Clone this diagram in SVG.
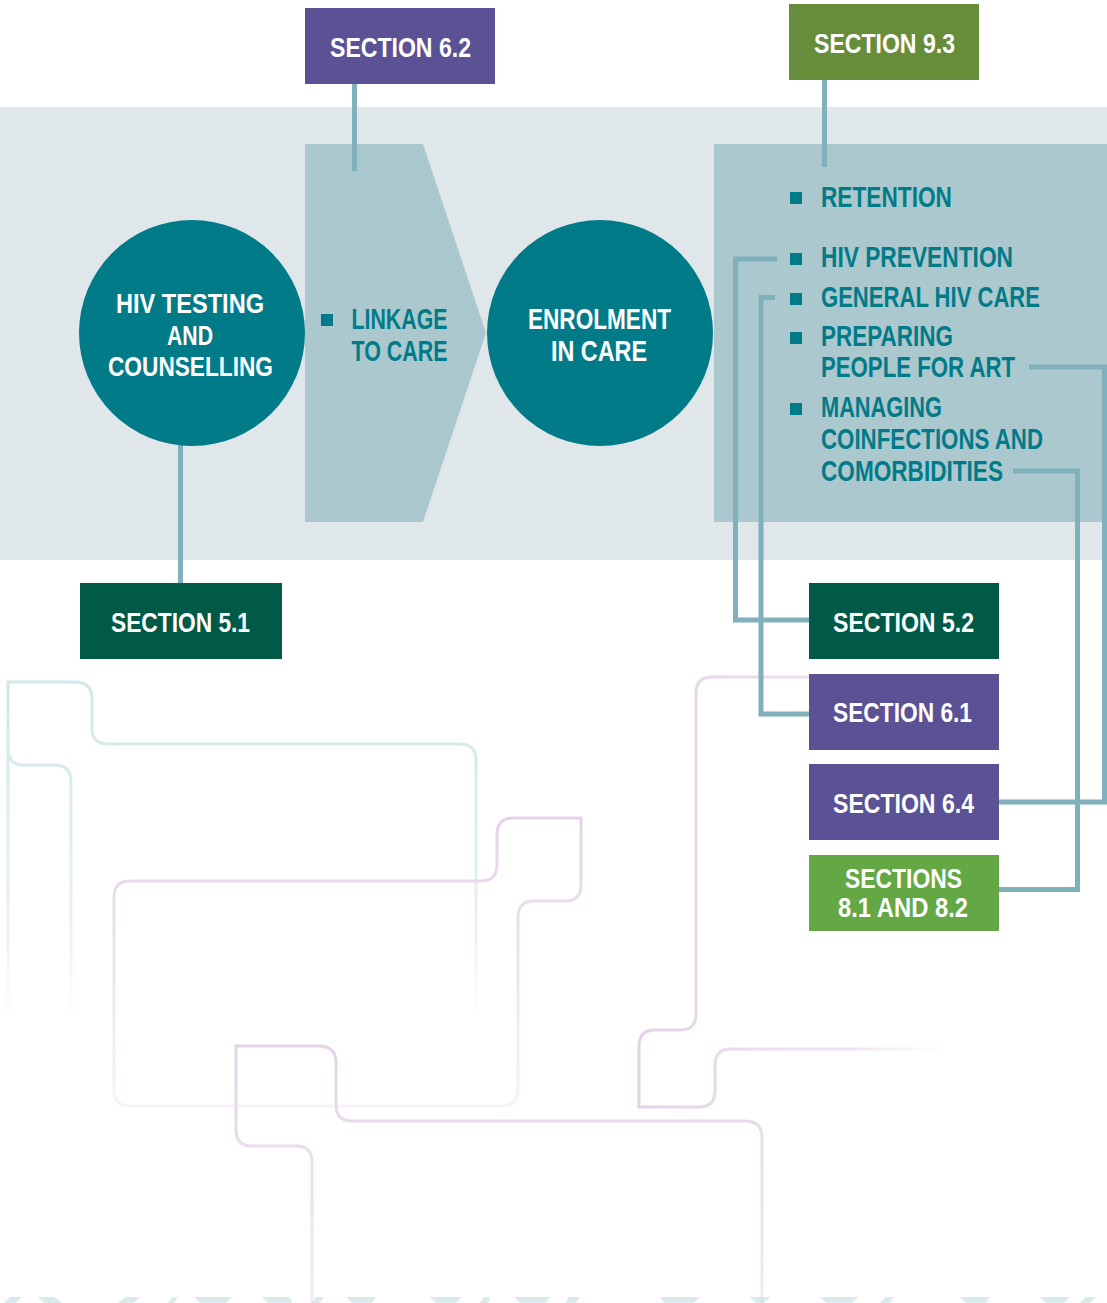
<svg xmlns="http://www.w3.org/2000/svg" width="1107" height="1303" viewBox="0 0 1107 1303">
<defs>
<style>
.txt{font-family:"Liberation Sans Narrow","Liberation Sans",Arial,sans-serif;font-weight:bold;}
.w{fill:#ffffff;}
.t{fill:#027b89;}
.s28{font-size:28px;}
.s30{font-size:30px;}
.s31{font-size:30px;}
.conn{fill:none;stroke:#7fb0bc;stroke-width:5;}
.deco{fill:none;stroke-width:3;}
.bul{fill:#027b89;}
</style>
<linearGradient id="gTeal" gradientUnits="userSpaceOnUse" x1="0" y1="680" x2="0" y2="1020">
<stop offset="0" stop-color="#d2e7ea"/>
<stop offset="0.7" stop-color="#e6f1f3"/>
<stop offset="1" stop-color="#ffffff"/>
</linearGradient>
<linearGradient id="gPurp" gradientUnits="userSpaceOnUse" x1="0" y1="815" x2="0" y2="1110">
<stop offset="0" stop-color="#e4d3e7"/>
<stop offset="1" stop-color="#f8f3f8"/>
</linearGradient>
<linearGradient id="gPurp2" gradientUnits="userSpaceOnUse" x1="0" y1="1040" x2="0" y2="1303">
<stop offset="0" stop-color="#e4d3e7"/>
<stop offset="1" stop-color="#f3eaf4"/>
</linearGradient>
<linearGradient id="gPurp3" gradientUnits="userSpaceOnUse" x1="640" y1="0" x2="945" y2="0">
<stop offset="0" stop-color="#e4d3e7"/>
<stop offset="0.7" stop-color="#efe5f0"/>
<stop offset="1" stop-color="#ffffff"/>
</linearGradient>
</defs>

<!-- background band -->
<rect x="0" y="107" width="1107" height="453" fill="#dfe7ea"/>

<!-- decorative lines -->
<g id="decoration">
<path class="deco" stroke="url(#gTeal)" d="M8,1012 L8,748 Q8,765 24,765 L54,765 Q71,765 71,782 L71,1015"/>
<path class="deco" stroke="url(#gTeal)" d="M8,750 L8,682 L75,682 Q92,682 92,699 L92,728 Q92,744 108,744 L459,744 Q476,744 476,760 L476,1015"/>
<path class="deco" stroke="url(#gPurp)" d="M581,818 L513,818 Q497,818 497,835 L497,865 Q497,881 481,881 L130,881 Q114,881 114,897 L114,1090 Q114,1106 130,1106 L501,1106 Q518,1106 518,1090 L518,917 Q518,901 534,901 L565,901 Q581,901 581,885 Z"/>
<path class="deco" stroke="url(#gPurp2)" d="M312,1303 L312,1162 Q312,1146 296,1146 L252,1146 Q236,1146 236,1130 L236,1046 L318,1046 Q336,1046 336,1062 L336,1105 Q336,1121 352,1121 L745,1121 Q762,1121 762,1137 L762,1303"/>
<path class="deco" stroke="url(#gPurp3)" d="M810,677 L712,677 Q696,677 696,693 L696,1014 Q696,1030 680,1030 L655,1030 Q639,1030 639,1046 L639,1107 L699,1107 Q715,1107 715,1091 L715,1065 Q715,1049 731,1049 L945,1049"/>
</g>

<!-- bottom strip pattern -->
<g id="strip" fill="#c3dcdf" opacity="0.6">
<polygon points="4,1303 10,1297 22,1297 16,1303"/>
<polygon points="38,1297 54,1297 62,1303 44,1303"/>
<polygon points="118,1303 126,1297 140,1297 134,1303"/>
<polygon points="168,1303 172,1297 178,1297 174,1303"/>
<polygon points="194,1297 232,1297 226,1303 200,1303"/>
<polygon points="262,1297 290,1297 292,1303 268,1303"/>
<polygon points="312,1303 316,1297 324,1297 320,1303"/>
<polygon points="346,1297 376,1297 372,1303 352,1303"/>
<polygon points="430,1297 462,1297 456,1303 436,1303"/>
<polygon points="480,1303 484,1297 490,1297 488,1303"/>
<polygon points="514,1297 550,1297 546,1303 520,1303"/>
<polygon points="568,1297 580,1297 576,1303 566,1303"/>
<polygon points="660,1297 700,1297 694,1303 664,1303"/>
<polygon points="750,1297 770,1297 764,1303 756,1303"/>
<polygon points="820,1297 858,1297 852,1303 826,1303"/>
<polygon points="880,1303 886,1297 894,1297 890,1303"/>
<polygon points="960,1297 990,1297 986,1303 966,1303"/>
<polygon points="1040,1297 1070,1297 1064,1303 1046,1303"/>
<polygon points="1080,1303 1086,1297 1096,1297 1090,1303"/>
</g>

<!-- light panels -->
<g id="linkage">
<polygon points="305,144 423,144 486,333 423,522 305,522" fill="#aac8ce"/>
<rect x="321" y="314" width="12" height="12" class="bul"/>
<text class="txt t s30" x="351.5" y="329" textLength="96" lengthAdjust="spacingAndGlyphs">LINKAGE</text>
<text class="txt t s30" x="351.5" y="361" textLength="96" lengthAdjust="spacingAndGlyphs">TO CARE</text>
</g>

<g id="care-list">
<rect x="714" y="144" width="393" height="378" fill="#aac8ce"/>
<rect x="790" y="192" width="12" height="12" class="bul"/>
<rect x="790" y="253" width="12" height="12" class="bul"/>
<rect x="790" y="293" width="12" height="12" class="bul"/>
<rect x="790" y="332" width="12" height="12" class="bul"/>
<rect x="790" y="403" width="12" height="12" class="bul"/>
<text class="txt t s31" x="821" y="207" textLength="131" lengthAdjust="spacingAndGlyphs">RETENTION</text>
<text class="txt t s31" x="821" y="267" textLength="192" lengthAdjust="spacingAndGlyphs">HIV PREVENTION</text>
<text class="txt t s31" x="821" y="307" textLength="219" lengthAdjust="spacingAndGlyphs">GENERAL HIV CARE</text>
<text class="txt t s31" x="821" y="346" textLength="132" lengthAdjust="spacingAndGlyphs">PREPARING</text>
<text class="txt t s31" x="821" y="377" textLength="194" lengthAdjust="spacingAndGlyphs">PEOPLE FOR ART</text>
<text class="txt t s31" x="821" y="417" textLength="121" lengthAdjust="spacingAndGlyphs">MANAGING</text>
<text class="txt t s31" x="821" y="449" textLength="222" lengthAdjust="spacingAndGlyphs">COINFECTIONS AND</text>
<text class="txt t s31" x="821" y="481" textLength="182" lengthAdjust="spacingAndGlyphs">COMORBIDITIES</text>
</g>

<!-- connectors -->
<g id="connectors">
<line class="conn" x1="354.5" y1="84" x2="354.5" y2="171"/>
<line class="conn" x1="824.5" y1="80" x2="824.5" y2="167"/>
<line class="conn" x1="180.5" y1="440" x2="180.5" y2="583"/>
<path class="conn" d="M777,259 L735.5,259 L735.5,620 L809,620"/>
<path class="conn" d="M775,297.5 L761,297.5 L761,714 L809,714"/>
<path class="conn" d="M1029,367 L1104.5,367 L1104.5,802 L999,802"/>
<path class="conn" d="M1013,471 L1077.5,471 L1077.5,889.5 L999,889.5"/>
</g>

<!-- circles -->
<g id="hiv-testing">
<circle cx="192" cy="333" r="113" fill="#027b89"/>
<text class="txt w s28" x="116" y="313" textLength="148" lengthAdjust="spacingAndGlyphs">HIV TESTING</text>
<text class="txt w s28" x="167" y="345" textLength="46" lengthAdjust="spacingAndGlyphs">AND</text>
<text class="txt w s28" x="108" y="376" textLength="165" lengthAdjust="spacingAndGlyphs">COUNSELLING</text>
</g>
<g id="enrolment">
<circle cx="600" cy="333" r="113" fill="#027b89"/>
<text class="txt w s30" x="528" y="329" textLength="143" lengthAdjust="spacingAndGlyphs">ENROLMENT</text>
<text class="txt w s30" x="551" y="361" textLength="96" lengthAdjust="spacingAndGlyphs">IN CARE</text>
</g>

<!-- section boxes -->
<g id="section-6-2">
<rect x="305" y="8" width="190" height="76" fill="#5a5294"/>
<text class="txt w s28" x="330" y="57" textLength="141" lengthAdjust="spacingAndGlyphs">SECTION 6.2</text>
</g>
<g id="section-9-3">
<rect x="789" y="4" width="190" height="76" fill="#688d3a"/>
<text class="txt w s28" x="814" y="53" textLength="141" lengthAdjust="spacingAndGlyphs">SECTION 9.3</text>
</g>
<g id="section-5-1">
<rect x="80" y="583" width="202" height="76" fill="#015a47"/>
<text class="txt w s28" x="111" y="632" textLength="139" lengthAdjust="spacingAndGlyphs">SECTION 5.1</text>
</g>
<g id="section-5-2">
<rect x="809" y="583" width="190" height="76" fill="#015a47"/>
<text class="txt w s28" x="833" y="632" textLength="141" lengthAdjust="spacingAndGlyphs">SECTION 5.2</text>
</g>
<g id="section-6-1">
<rect x="809" y="674" width="190" height="76" fill="#5a5294"/>
<text class="txt w s28" x="833" y="722" textLength="139" lengthAdjust="spacingAndGlyphs">SECTION 6.1</text>
</g>
<g id="section-6-4">
<rect x="809" y="764" width="190" height="76" fill="#5a5294"/>
<text class="txt w s28" x="833" y="813" textLength="141" lengthAdjust="spacingAndGlyphs">SECTION 6.4</text>
</g>
<g id="sections-8-1-8-2">
<rect x="809" y="855" width="190" height="76" fill="#64a845"/>
<text class="txt w s28" x="845" y="888" textLength="117" lengthAdjust="spacingAndGlyphs">SECTIONS</text>
<text class="txt w s28" x="838" y="917" textLength="130" lengthAdjust="spacingAndGlyphs">8.1 AND 8.2</text>
</g>
</svg>
